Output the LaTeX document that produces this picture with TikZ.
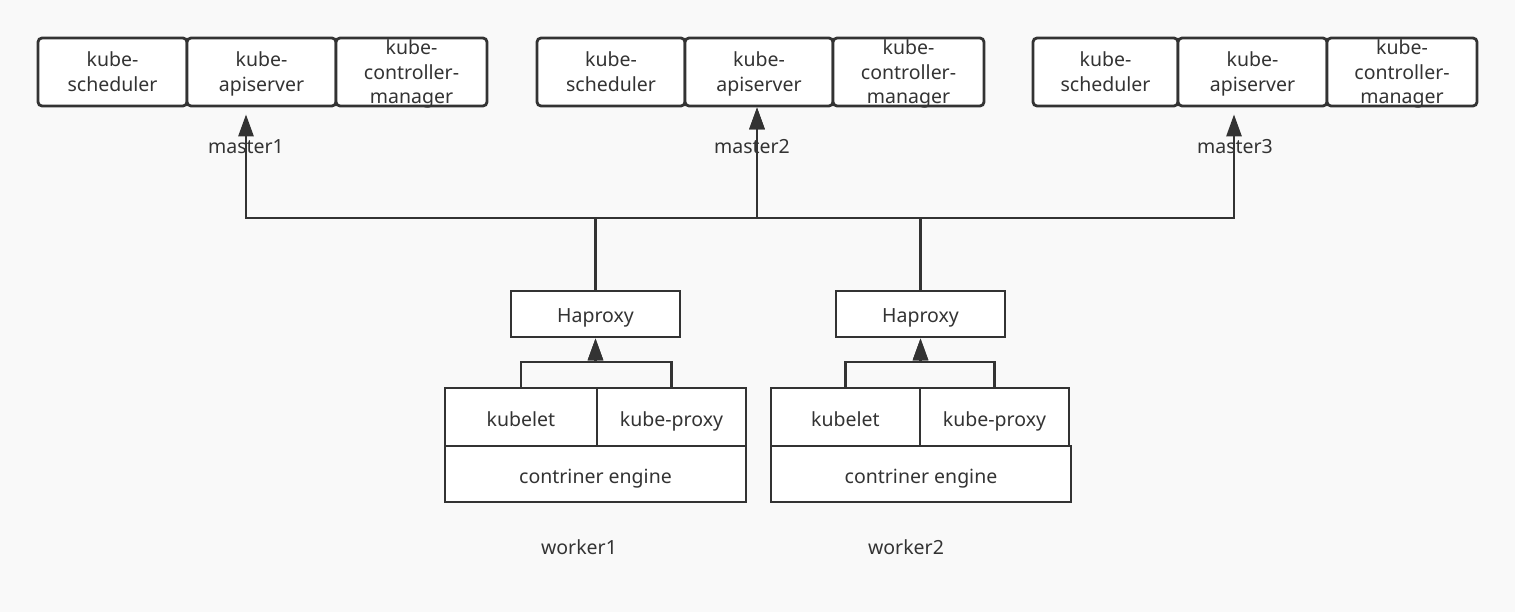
\documentclass[tikz,border=0pt]{standalone}
\usepackage{fontspec}
\setmainfont{Noto Sans}
\usetikzlibrary{arrows.meta}
\definecolor{ink}{HTML}{333333}
\definecolor{paper}{HTML}{F9F9F9}
\newcommand\diagfont{\fontsize{19.5}{24.5}\selectfont}
\newcommand\ms{\rule[-5.05pt]{0pt}{24.5pt}}
\tikzset{
  mbox/.style={draw=ink, fill=white, line width=2.8pt, rounded corners=4pt,
    minimum height=68pt, inner xsep=0pt, inner ysep=-3pt, align=center,
    text=ink, font=\diagfont},
  wbox/.style={draw=ink, fill=white, line width=2.8pt, inner sep=0pt,
    text height=18pt, text depth=0pt, text=ink, font=\diagfont},
  conn/.style={draw=ink, line width=2.8pt, line join=miter},
  arr/.style={conn, -{Triangle[length=22pt,width=15pt]}},
  lbl/.style={text=ink, font=\diagfont}
}

\begin{document}
\begin{tikzpicture}[x=1pt, y=-1pt]
  \useasboundingbox[fill=paper] (0,0) rectangle (1515,612);
% masters
  \node[mbox, minimum width=149pt] (sched1) at (112.5,72) {\ms kube-\\\ms scheduler};
  \node[mbox, minimum width=149pt] (api1) at (261.5,72) {\ms kube-\\\ms apiserver};
  \node[mbox, minimum width=151pt] (ctrl1) at (411.5,72) {\ms kube-\\\ms controller-\\\ms manager};
  \node[mbox, minimum width=148pt] (sched2) at (611,72) {\ms kube-\\\ms scheduler};
  \node[mbox, minimum width=148pt] (api2) at (759,72) {\ms kube-\\\ms apiserver};
  \node[mbox, minimum width=151pt] (ctrl2) at (908.5,72) {\ms kube-\\\ms controller-\\\ms manager};
  \node[mbox, minimum width=145pt] (sched3) at (1105.5,72) {\ms kube-\\\ms scheduler};
  \node[mbox, minimum width=149pt] (api3) at (1252.5,72) {\ms kube-\\\ms apiserver};
  \node[mbox, minimum width=150pt] (ctrl3) at (1402,72) {\ms kube-\\\ms controller-\\\ms manager};
  \node[lbl] (m1) at (246,147) {master1};
  \node[lbl] (m2) at (752,147) {master2};
  \node[lbl] (m3) at (1235,147) {master3};
% workers
  \node[wbox, minimum width=169pt, minimum height=46pt] (hap1) at (595.5,314) {Haproxy};
  \node[wbox, minimum width=169pt, minimum height=46pt] (hap2) at (920.5,314) {Haproxy};
  \node[wbox, minimum width=152pt, minimum height=58pt] (kubelet1) at (521,417) {kubelet};
  \node[wbox, minimum width=149pt, minimum height=58pt] (kproxy1) at (671.5,417) {kube-proxy};
  \node[wbox, minimum width=301pt, minimum height=56pt] (engine1) at (595.5,474) {contriner engine};
  \node[wbox, minimum width=149pt, minimum height=58pt] (kubelet2) at (845.5,417) {kubelet};
  \node[wbox, minimum width=149pt, minimum height=58pt] (kproxy2) at (994.5,417) {kube-proxy};
  \node[wbox, minimum width=300pt, minimum height=56pt] (engine2) at (921,474) {contriner engine};
  \node[lbl] (w1) at (579,547) {worker1};
  \node[lbl] (w2) at (906,547) {worker2};
% connectors
  \coordinate (bus) at (0,218);
  \coordinate (fork) at (0,362);
  \coordinate (tap1) at ([xshift=-15.5pt]api1.south);
  \coordinate (tap2) at ([xshift=-2pt]api2.south);
  \coordinate (tap3) at ([xshift=-18.5pt]api3.south);
  \draw[arr, shorten >=7pt] (hap1.north) |- (tap1 |- bus) -- (tap1);
  \draw[arr] (hap1.north) |- (tap2 |- bus) -- (tap2);
  \draw[arr] (hap2.north) |- (tap2 |- bus) -- (tap2);
  \draw[arr, shorten >=7pt] (hap2.north) |- (tap3 |- bus) -- (tap3);
  \draw[arr] (kubelet1.north) |- (hap1.south |- fork) -- (hap1.south);
  \draw[arr] (kproxy1.north) |- (hap1.south |- fork) -- (hap1.south);
  \draw[arr] (kubelet2.north) |- (hap2.south |- fork) -- (hap2.south);
  \draw[arr] (kproxy2.north) |- (hap2.south |- fork) -- (hap2.south);
\end{tikzpicture}
\end{document}
